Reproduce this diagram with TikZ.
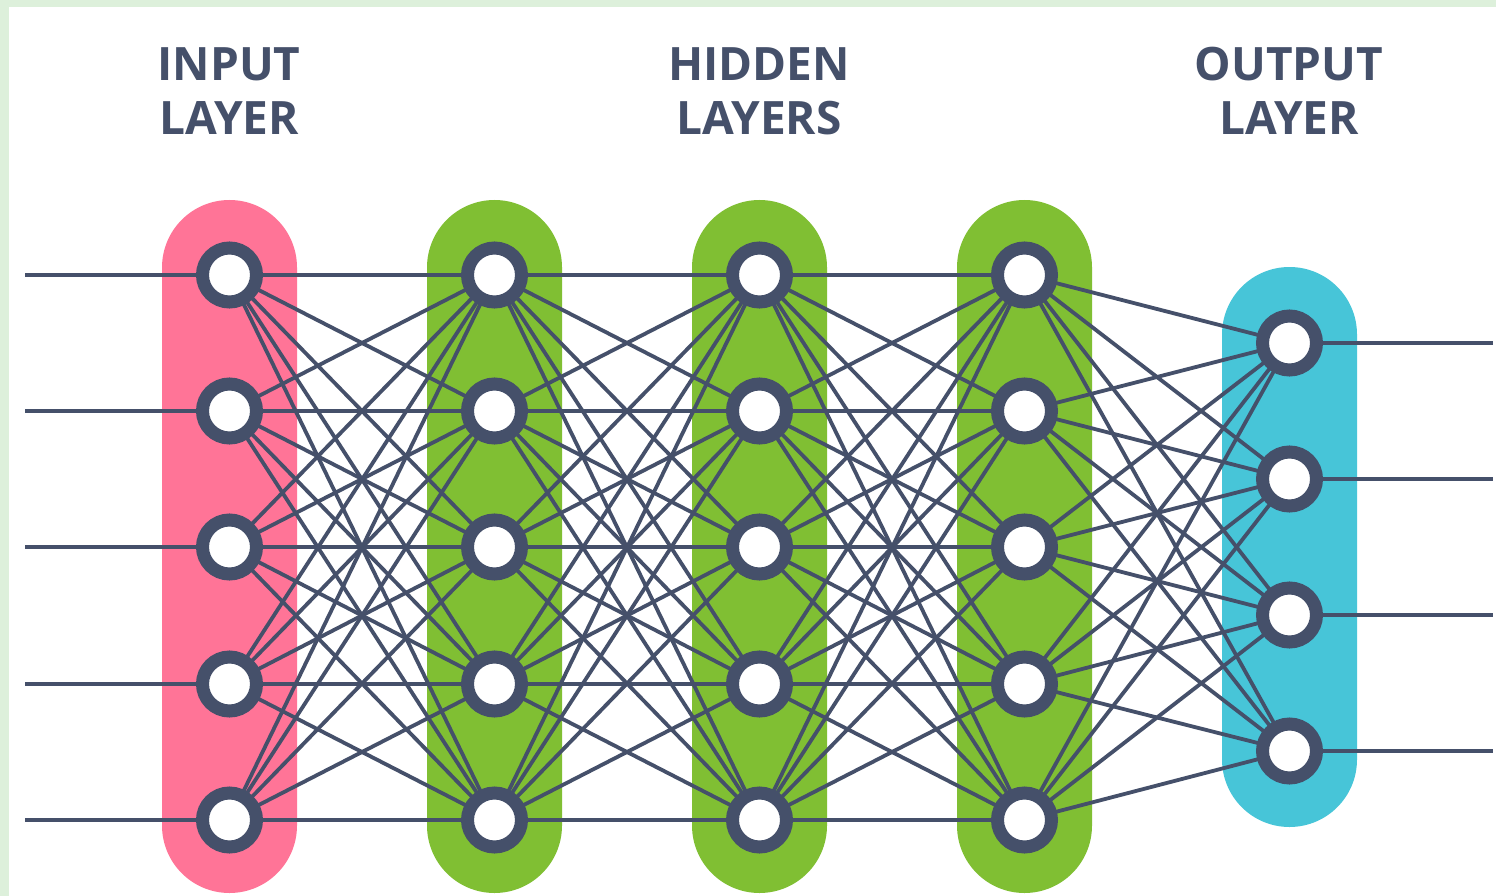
\documentclass[tikz,border=0pt]{standalone}
\usepackage{fontspec}
\setmainfont{Open Sans}
\usetikzlibrary{backgrounds}
\pgfdeclarelayer{back}
\pgfsetlayers{back,background,main}
\definecolor{bggreen}{HTML}{DDF0DB}
\definecolor{ink}{HTML}{45506A}
\definecolor{pinkpill}{HTML}{FF7497}
\definecolor{greenpill}{HTML}{80BF33}
\definecolor{cyanpill}{HTML}{47C5D8}
\tikzset{
  neuron/.style={circle, draw=ink, fill=white, line width=13pt, minimum size=54pt, inner sep=0pt, outer sep=0pt},
  link/.style={draw=ink, line width=3.8pt},
  title/.style={text=ink, font=\fontsize{46}{54}\selectfont\bfseries, anchor=base, inner sep=0pt},
  pill/.style={rounded corners=67.5pt},
}
\begin{document}
\begin{tikzpicture}[x=1pt,y=-1pt]
\useasboundingbox (0,0) rectangle (1496,896);
% titles
\node[title] (tin1) at (229,81) {INPUT};
\node[title] (tin2) at (229,135) {LAYER};
\node[title] (thid1) at (759,81) {HIDDEN};
\node[title] (thid2) at (759,135) {LAYERS};
\node[title] (tout1) at (1289,81) {OUTPUT};
\node[title] (tout2) at (1289,135) {LAYER};
% neurons
\foreach \j/\y in {1/275,2/411,3/547,4/684,5/820}{
  \node[neuron] (a\j) at (229.5,\y) {};
  \node[neuron] (b\j) at (494.5,\y) {};
  \node[neuron] (c\j) at (759.5,\y) {};
  \node[neuron] (d\j) at (1024.5,\y) {};
  \coordinate (in\j) at (25,\y);
}
\foreach \j/\y in {1/343,2/479,3/615,4/751}{
  \node[neuron] (e\j) at (1289.5,\y) {};
  \coordinate (out\j) at (1493,\y);
}
\begin{pgfonlayer}{back}
\fill[bggreen] (0,0) rectangle (1496,896);
\fill[white] (9,7) rectangle (1496,896);
\fill[pinkpill, pill] (162,200) rectangle (297,893);
\fill[greenpill, pill] (427,200) rectangle (562,893);
\fill[greenpill, pill] (692,200) rectangle (827,893);
\fill[greenpill, pill] (957,200) rectangle (1092,893);
\fill[cyanpill, pill] (1222,267) rectangle (1357,827);
\end{pgfonlayer}
\begin{pgfonlayer}{background}
\foreach \i in {1,...,5}{
  \draw[link] (in\i) -- (a\i.center);
  \foreach \k in {1,...,5}{
    \draw[link] (a\i.center) -- (b\k.center);
    \draw[link] (b\i.center) -- (c\k.center);
    \draw[link] (c\i.center) -- (d\k.center);
  }
  \foreach \k in {1,...,4}{
    \draw[link] (d\i.center) -- (e\k.center);
  }
}
\foreach \k in {1,...,4}{
  \draw[link] (e\k.center) -- (out\k);
}
\end{pgfonlayer}
\end{tikzpicture}
\end{document}
